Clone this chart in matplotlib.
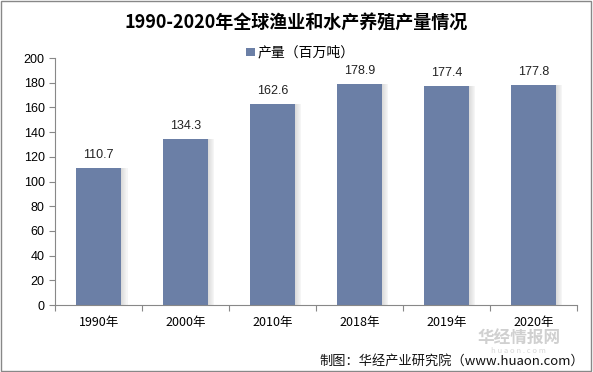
import matplotlib.pyplot as plt
from matplotlib.patches import Rectangle

plt.rcParams['font.family'] = ['Noto Sans CJK SC', 'DejaVu Sans']

years = ['1990年', '2000年', '2010年', '2018年', '2019年', '2020年']
output = [110.7, 134.3, 162.6, 178.9, 177.4, 177.8]

bar_color = '#6b7fa6'

fig = plt.figure(figsize=(5.93, 3.72), dpi=100)
fig.patches.append(Rectangle((0.002, 0.003), 0.995, 0.994, transform=fig.transFigure,
                             fill=False, edgecolor='#888888', linewidth=1))
ax = fig.add_axes([0.093, 0.18, 0.88, 0.664])

x = range(len(years))
w = 0.52
# soft shadow on the right of each bar
for i, v in enumerate(output):
    for k in range(6):
        ax.bar(i + w / 2 + 0.012 * k + 0.006, v, width=0.012, color='#999999',
               alpha=0.35 - 0.05 * k, linewidth=0, zorder=1)
ax.bar(x, output, width=w, color=bar_color, zorder=2, label='产量（百万吨）')

for i, v in enumerate(output):
    ax.text(i, v + 6, f'{v:.1f}', ha='center', va='bottom', fontsize=9,
            family=['Liberation Sans', 'DejaVu Sans'], color='#222222')

ax.set_xlim(-0.5, len(years) - 0.5)
ax.set_ylim(0, 200)
ax.set_yticks(range(0, 201, 20))
ax.set_xticks([i + 0.5 for i in range(-1, len(years))], minor=False)
ax.set_xticklabels([])
ax.set_xticks(list(x), minor=True)
ax.set_xticklabels(years, minor=True, fontsize=9)
ax.tick_params(axis='x', which='major', length=4, color='#888888')
ax.tick_params(axis='x', which='minor', length=0, pad=8)
ax.tick_params(axis='y', length=4, color='#888888', labelsize=9)
for lbl in ax.get_yticklabels():
    lbl.set_family(['Liberation Sans', 'DejaVu Sans'])
for s in ['top', 'right']:
    ax.spines[s].set_visible(False)
ax.spines['left'].set_color('#888888')
ax.spines['bottom'].set_color('#888888')

fig.text(0.5, 0.94, '1990-2020年全球渔业和水产养殖产量情况', ha='center', va='center',
         fontsize=13, fontweight='bold')
ax.legend(loc='upper center', bbox_to_anchor=(0.47, 1.1), frameon=False, fontsize=10,
          handlelength=0.6, handleheight=0.6, handletextpad=0.2)

# watermark (nudged slightly below the tick labels)
fig.text(0.875, 0.09, '华经情报网', ha='center', va='center', fontsize=12,
         fontweight='bold', color='#d0d0d0')
fig.text(0.875, 0.056, 'h u a o n . c o m', ha='center', va='center', fontsize=5.5,
         color='#d8d8d8')
fig.text(0.985, 0.028, '制图：华经产业研究院（www.huaon.com）', ha='right', va='center',
         fontsize=9.5, color='#111111')

fig.savefig('out.png', dpi=100)
